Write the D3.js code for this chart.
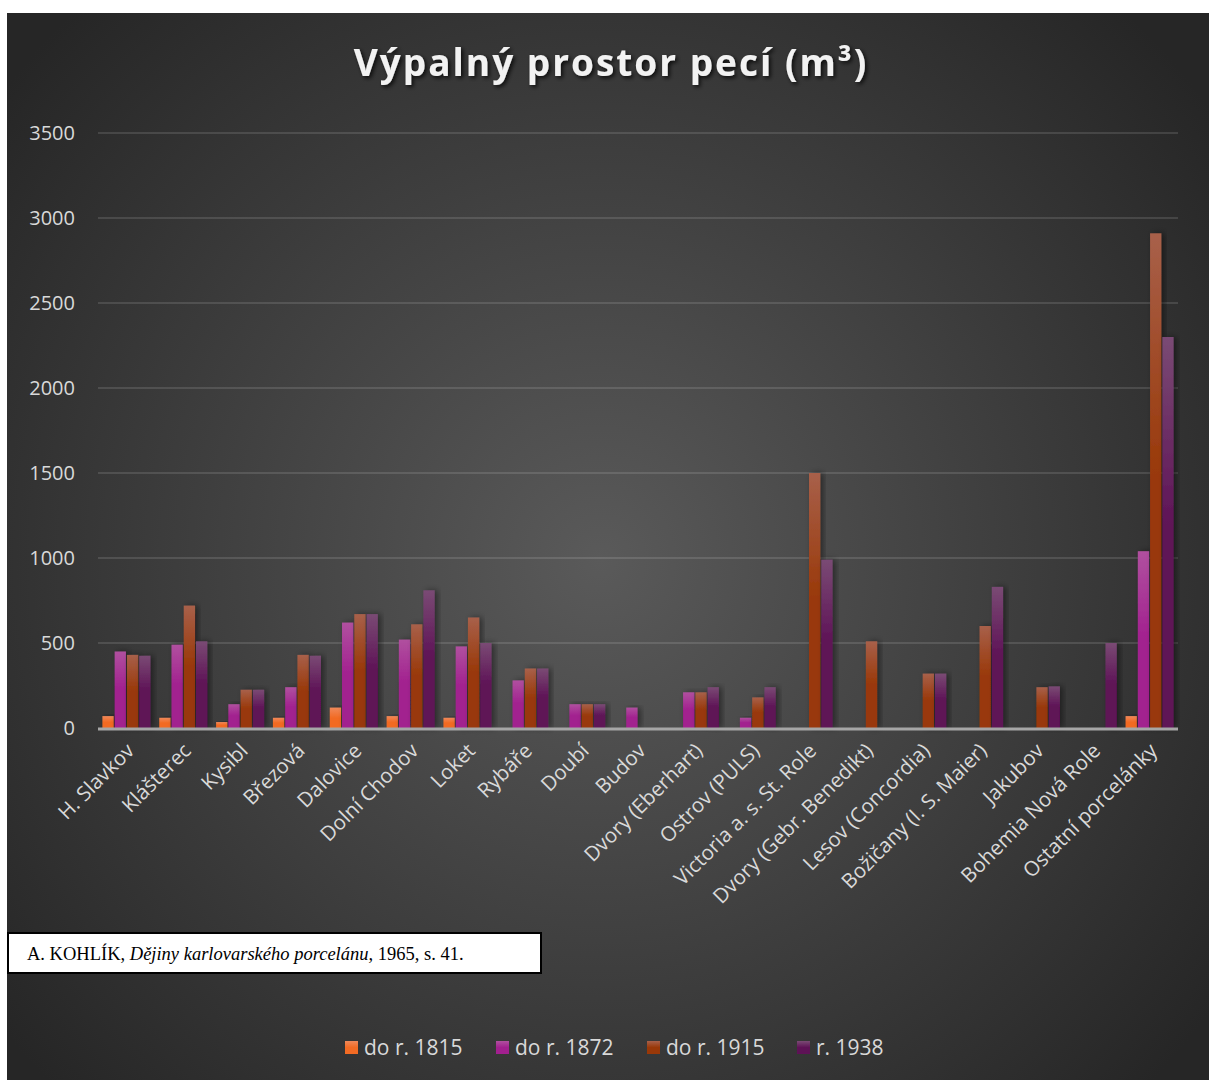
<!DOCTYPE html>
<html>
<head>
  <meta charset="utf-8">
  <script src="https://d3js.org/d3.v7.min.js"></script>
  <style>
    body { margin: 0; background: #fff; }
    .y-axis text, .x-axis text { fill: #d9d9d9; font-family: "Open Sans", "Noto Sans", sans-serif; }
    .legend text { fill: #d9d9d9; font-family: "Open Sans", "Noto Sans", sans-serif; font-size: 21px; }
  </style>
</head>
<body>
  <div id="chart"></div>
  <script>
    var categories = ["H. Slavkov", "Klášterec", "Kysibl", "Březová", "Dalovice", "Dolní Chodov", "Loket",
      "Rybáře", "Doubí", "Budov", "Dvory (Eberhart)", "Ostrov (PULS)", "Victoria a. s. St. Role",
      "Dvory (Gebr. Benedikt)", "Lesov (Concordia)", "Božičany (I. S. Maier)", "Jakubov",
      "Bohemia Nová Role", "Ostatní porcelánky"];
    var seriesNames = ["do r. 1815", "do r. 1872", "do r. 1915", "r. 1938"];
    var do1815 = [70, 60, 35, 60, 120, 70, 60, 0, 0, 0, 0, 0, 0, 0, 0, 0, 0, 0, 70];
    var do1872 = [450, 490, 140, 240, 620, 520, 480, 280, 140, 120, 210, 60, 0, 0, 0, 0, 0, 0, 1040];
    var do1915 = [430, 720, 225, 430, 670, 610, 650, 350, 140, 0, 210, 180, 1500, 510, 320, 600, 240, 0, 2910];
    var r1938 = [425, 510, 225, 425, 670, 810, 500, 350, 140, 0, 240, 240, 990, 0, 320, 830, 245, 500, 2300];
    var yTicks = [0, 500, 1000, 1500, 2000, 2500, 3000, 3500];

    var seriesValues = [do1815, do1872, do1915, r1938];
    var colors = [
      { top: "#f0895a", bottom: "#f26b24" },
      { top: "#b0509f", bottom: "#a2208f" },
      { top: "#a8604a", bottom: "#993808" },
      { top: "#7a4a74", bottom: "#5e1256" }
    ];

    var W = 1209, H = 1080;
    var plot = { left: 98, right: 1178, top: 133, bottom: 728 };

    var svg = d3.select("#chart").append("svg")
      .attr("width", W).attr("height", H);

    var defs = svg.append("defs");
    var bg = defs.append("radialGradient").attr("id", "bg")
      .attr("gradientUnits", "userSpaceOnUse")
      .attr("cx", 600).attr("cy", 560).attr("r", 760);
    bg.append("stop").attr("offset", "0").attr("stop-color", "#5a5a5a");
    bg.append("stop").attr("offset", "1").attr("stop-color", "#262626");

    colors.forEach(function(c, i) {
      var g = defs.append("linearGradient").attr("id", "bar" + i)
        .attr("x1", 0).attr("y1", 0).attr("x2", 0).attr("y2", 1);
      g.append("stop").attr("offset", "0").attr("stop-color", c.top);
      g.append("stop").attr("offset", "0.5").attr("stop-color", c.bottom);
      g.append("stop").attr("offset", "1").attr("stop-color", c.bottom);
    });

    var shadow = defs.append("filter").attr("id", "shadow")
      .attr("x", "-50%").attr("y", "-10%").attr("width", "200%").attr("height", "120%");
    shadow.append("feDropShadow").attr("dx", 3).attr("dy", 0).attr("stdDeviation", 3)
      .attr("flood-color", "#000").attr("flood-opacity", 0.45);

    var tshadow = defs.append("filter").attr("id", "tshadow");
    tshadow.append("feDropShadow").attr("dx", 2).attr("dy", 2).attr("stdDeviation", 2)
      .attr("flood-color", "#000").attr("flood-opacity", 0.8);

    svg.append("rect").attr("x", 7).attr("y", 13).attr("width", W - 7).attr("height", H - 13)
      .attr("fill", "url(#bg)");

    svg.append("text")
      .attr("x", 611).attr("y", 76)
      .attr("text-anchor", "middle")
      .attr("fill", "#f2f2f2")
      .attr("filter", "url(#tshadow)")
      .style("font-family", "'Open Sans', 'Noto Sans', sans-serif")
      .style("font-weight", "bold")
      .style("font-size", "37px")
      .style("letter-spacing", "2px")
      .text("Výpalný prostor pecí (m³)");

    var x0 = d3.scaleBand().domain(categories).range([plot.left, plot.right])
      .paddingInner(0.155).paddingOuter(0.0775);
    var x1 = d3.scaleBand().domain(d3.range(4)).range([0, x0.bandwidth()]).paddingInner(0.08);
    var y = d3.scaleLinear().domain([0, 3500]).range([plot.bottom, plot.top]);

    // grid
    svg.append("g").selectAll("line").data(yTicks.slice(1)).enter().append("line")
      .attr("x1", plot.left).attr("x2", plot.right)
      .attr("y1", function(d) { return y(d); }).attr("y2", function(d) { return y(d); })
      .attr("stroke", "rgba(255,255,255,0.12)").attr("stroke-width", 2);

    var yAxis = svg.append("g").attr("class", "y-axis")
      .attr("transform", "translate(" + plot.left + ",0)")
      .call(d3.axisLeft(y).tickValues(yTicks).tickFormat(d3.format("d")).tickSize(0).tickPadding(23));
    yAxis.select(".domain").remove();
    yAxis.selectAll("text").style("font-size", "20px");

    // bars
    var groups = svg.append("g").selectAll("g").data(categories).enter().append("g")
      .attr("transform", function(d) { return "translate(" + x0(d) + ",0)"; });
    groups.selectAll("rect")
      .data(function(d, ci) {
        return seriesValues.map(function(s, si) { return { si: si, v: s[ci] }; })
          .filter(function(e) { return e.v > 0; });
      })
      .enter().append("rect")
      .attr("x", function(d) { return x1(d.si); })
      .attr("width", x1.bandwidth())
      .attr("y", function(d) { return y(d.v); })
      .attr("height", function(d) { return y(0) - y(d.v); })
      .attr("fill", function(d) { return "url(#bar" + d.si + ")"; })
      .attr("filter", "url(#shadow)");

    // baseline
    svg.append("line")
      .attr("x1", plot.left).attr("x2", plot.right)
      .attr("y1", y(0) + 1).attr("y2", y(0) + 1)
      .attr("stroke", "#a6a6a6").attr("stroke-width", 3);

    var xAxis = svg.append("g").attr("class", "x-axis")
      .attr("transform", "translate(0," + plot.bottom + ")")
      .call(d3.axisBottom(x0).tickSize(0).tickPadding(0));
    xAxis.select(".domain").remove();
    xAxis.selectAll("text")
      .style("font-size", "20.5px")
      .attr("text-anchor", "end")
      .attr("dy", null)
      .attr("y", 0)
      .attr("transform", "translate(9,24) rotate(-45)");

    // source box
    svg.append("rect").attr("x", 8).attr("y", 933).attr("width", 533).attr("height", 40)
      .attr("fill", "#fff").attr("stroke", "#000").attr("stroke-width", 2);
    var src = svg.append("text").attr("x", 27).attr("y", 960)
      .attr("fill", "#000")
      .style("font-family", "'Liberation Serif', 'Times New Roman', serif")
      .style("font-size", "18.5px");
    src.append("tspan").text("A. KOHLÍK, ");
    src.append("tspan").style("font-style", "italic").text("Dějiny karlovarského porcelánu,");
    src.append("tspan").text(" 1965, s. 41.");

    // legend
    var legendX = [345, 496, 647, 797];
    var legend = svg.append("g").attr("class", "legend").selectAll("g").data(seriesNames).enter().append("g")
      .attr("transform", function(d, i) { return "translate(" + legendX[i] + ",1041)"; });
    legend.append("rect").attr("width", 13).attr("height", 13)
      .attr("fill", function(d, i) { return "url(#bar" + i + ")"; });
    legend.append("text").attr("x", 19).attr("y", 14).text(function(d) { return d; });
  </script>
</body>
</html>
